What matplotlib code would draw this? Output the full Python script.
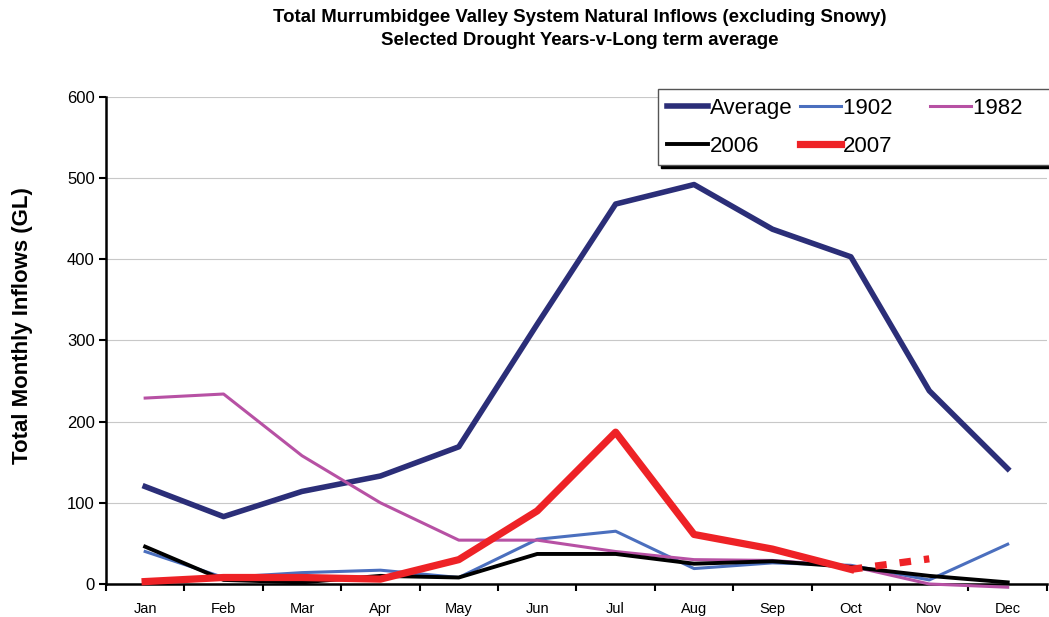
import numpy as np
import matplotlib
matplotlib.use("Agg")
import matplotlib.pyplot as plt

plt.rcParams["font.family"] = ["Liberation Sans", "DejaVu Sans"]

# ==========================================
# Data (GL per month)
# ==========================================

months = ["Jan", "Feb", "Mar", "Apr", "May", "Jun",
          "Jul", "Aug", "Sep", "Oct", "Nov", "Dec"]

average = [120, 83, 114, 133, 169, 320, 468, 492, 437, 403, 238, 142]
y1902 = [40, 8, 14, 17, 8, 55, 65, 19, 26, 23, 5, 49]
y1982 = [229, 234, 158, 100, 54, 54, 40, 30, 29, 22, 0, -4]
y2006 = [46, 5, 2, 10, 8, 37, 37, 25, 28, 21, 10, 2]
y2007 = [3, 8, 8, 6, 30, 90, 187, 61, 43, 18]
y2007_outlook = [18, 31]   # Oct -> Nov dotted

x = np.arange(len(months))

# ==========================================
# Figure
# ==========================================

fig = plt.figure(figsize=(10.49, 6.17), dpi=100)
ax = fig.add_axes([0.101, 0.0535, 0.897, 0.7895])

ax.plot(x, average, color="#2B2E78", lw=4.0, label="Average", clip_on=False, zorder=3)
ax.plot(x, y1902, color="#4B6FBE", lw=2.2, label="1902", clip_on=False, zorder=3)
ax.plot(x, y1982, color="#B751A4", lw=2.2, label="1982", clip_on=False, zorder=3)
ax.plot(x, y2006, color="black", lw=2.8, label="2006", clip_on=False, zorder=3)
ax.plot(x[:len(y2007)], y2007, color="#EE2226", lw=5.2, label="2007", clip_on=False, zorder=4)
ax.plot(x[9:11], y2007_outlook, color="#EE2226", lw=5.2, ls=(0, (1.6, 1.8)),
        solid_capstyle="butt", dash_capstyle="butt", zorder=4)

ax.set_xlim(-0.5, 11.5)
ax.set_ylim(0, 600)
ax.set_yticks(np.arange(0, 601, 100))
ax.set_xticks(x)
ax.set_xticklabels(months, fontsize=10.5)
ax.set_xticks(np.arange(-0.5, 12, 1), minor=True)
ax.tick_params(axis="x", which="major", length=0, pad=13)
ax.tick_params(axis="x", which="minor", length=5, width=1.5, direction="out")
ax.tick_params(axis="y", length=5, width=1.5, direction="out", labelsize=12, pad=3)

ax.yaxis.grid(True, color="#C8C8C8", lw=0.8)
ax.set_axisbelow(True)
for side in ["top", "right"]:
    ax.spines[side].set_visible(False)
ax.spines["left"].set_linewidth(1.8)
ax.spines["bottom"].set_linewidth(1.8)

ax.set_ylabel("Total Monthly Inflows (GL)", fontsize=16, fontweight="bold")
ax.yaxis.set_label_coords(-0.078, 0.53)

fig.text(0.553, 0.971, "Total Murrumbidgee Valley System Natural Inflows (excluding Snowy)",
         ha="center", va="center", fontsize=13.4, fontweight="bold")
fig.text(0.553, 0.934, "Selected Drought Years-v-Long term average",
         ha="center", va="center", fontsize=13.4, fontweight="bold")

# legend row-major order: Average, 1902, 1982 / 2006, 2007
h, l = ax.get_legend_handles_labels()
order = [0, 3, 1, 4, 2]
labels = [l[i] for i in order]
labels[2] = "1902     "
labels[4] = "1982   "
leg = fig.legend([h[i] for i in order], labels,
                 loc="upper left", bbox_to_anchor=(658 / 1049, 1 - 89 / 617),
                 ncol=3, fontsize=16, frameon=True, fancybox=False,
                 edgecolor="#555555", handlelength=1.85, handletextpad=0.1,
                 columnspacing=0.3, borderaxespad=0, labelspacing=0.75,
                 borderpad=0.4, shadow={"color": "black", "alpha": 1})
leg.get_frame().set_linewidth(1.0)

fig.savefig("out.png", dpi=100)
